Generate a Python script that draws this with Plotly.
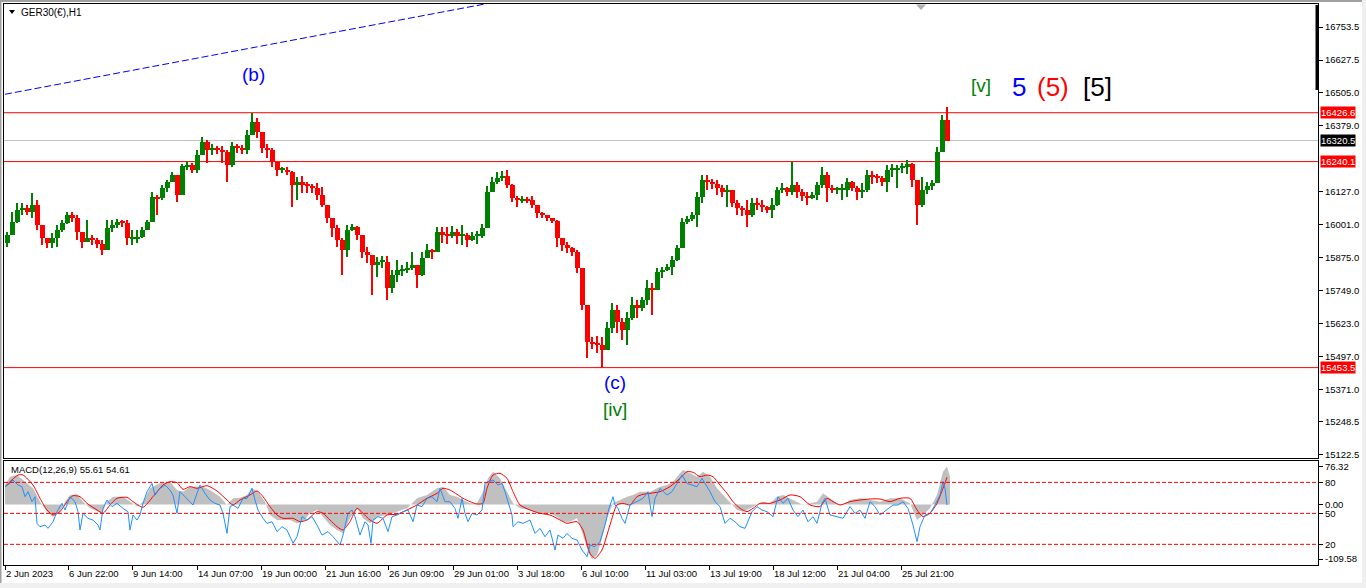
import plotly.graph_objects as go

# ---------------- price data (each candle = 5 hourly bars) ----------------
BIN_HOURS = 5
first_open = 15929
highs = [15971,16048,16082,16082,16074,16120,16093,15998,15948,15967,
         15998,16017,16048,16048,16036,15971,16017,15960,15948,15941,
         16017,16017,16021,16017,16017,15979,15979,15990,16017,16124,
         16113,16151,16170,16200,16189,16231,16242,16235,16284,16334,
         16322,16307,16300,16300,16284,16315,16307,16303,16361,16427,
         16406,16353,16307,16292,16239,16219,16219,16204,16181,16185,
         16162,16155,16158,16143,16074,16025,15998,15948,15998,16002,
         15994,15960,15914,15883,15876,15880,15880,15826,15864,15845,
         15857,15895,15845,15895,15925,15906,15990,15990,15990,15994,
         15983,15998,15967,15971,15975,16002,16147,16181,16200,16204,
         16208,16155,16109,16109,16105,16109,16074,16048,16036,16025,
         16017,15948,15933,15914,15902,15834,15693,15570,15574,15570,
         15628,15700,15693,15643,15666,15723,15712,15723,15788,15777,
         15834,15838,15849,15880,15922,16025,16032,16048,16124,16189,
         16189,16174,16170,16151,16151,16132,16093,16070,16093,16101,
         16101,16093,16070,16101,16143,16158,16143,16239,16162,16135,
         16124,16124,16162,16219,16200,16151,16143,16155,16177,16166,
         16147,16158,16208,16204,16193,16185,16227,16231,16227,16235,
         16246,16235,16170,16181,16162,16170,16296,16418,16448]
lows = [15914,15958,16005,16036,16036,16025,15979,15922,15910,15910,
        15914,15971,16002,16009,15941,15910,15933,15922,15910,15883,
        15902,15971,15986,15990,15922,15922,15929,15948,15979,16009,
        16036,16093,16124,16162,16086,16113,16208,16197,16197,16265,
        16235,16265,16269,16235,16162,16219,16273,16269,16269,16341,
        16330,16273,16254,16219,16185,16197,16189,16067,16093,16120,
        16120,16120,16093,16067,16006,15952,15914,15807,15876,15975,
        15941,15872,15853,15731,15800,15834,15712,15738,15780,15803,
        15815,15826,15758,15803,15872,15868,15895,15929,15925,15948,
        15925,15922,15914,15937,15925,15948,15986,16124,16155,16166,
        16139,16086,16067,16082,16082,16063,16025,16025,16013,16006,
        15914,15899,15891,15880,15815,15673,15490,15524,15509,15453.5,
        15521,15586,15586,15559,15540,15635,15643,15670,15693,15654,
        15750,15796,15822,15807,15860,15910,16002,16013,15990,16082,
        16132,16135,16113,16105,16067,16067,16036,16032,15990,16029,
        16055,16048,16044,16025,16070,16120,16109,16113,16101,16090,
        16074,16097,16093,16139,16086,16120,16116,16093,16105,16128,
        16093,16101,16124,16155,16158,16147,16124,16181,16139,16197,
        16193,16143,15998,16067,16116,16132,16158,16277,16319]
closes = [15960,16009,16055,16063,16048,16074,15998,15948,15929,15948,
          15979,16006,16036,16025,15971,15933,15948,15941,15925,15902,
          15986,15998,16009,16006,15948,15948,15952,15979,16009,16105,
          16101,16139,16162,16189,16113,16223,16227,16208,16265,16315,
          16284,16292,16284,16277,16227,16300,16292,16284,16341,16391,
          16353,16292,16284,16239,16208,16208,16200,16151,16162,16151,
          16147,16139,16113,16074,16025,15986,15941,15902,15979,15990,
          15960,15895,15883,15845,15857,15857,15758,15807,15826,15826,
          15834,15845,15807,15872,15902,15895,15971,15960,15956,15971,
          15956,15960,15941,15956,15956,15986,16124,16162,16177,16185,
          16151,16101,16093,16097,16093,16074,16044,16036,16025,16013,
          15948,15922,15910,15895,15834,15693,15551,15547,15540,15521,
          15605,15673,15628,15597,15643,15693,15681,15712,15758,15750,
          15819,15826,15838,15864,15910,16009,16021,16036,16105,16170,
          16162,16155,16139,16124,16132,16082,16063,16055,16036,16082,
          16074,16067,16055,16074,16132,16139,16124,16151,16124,16109,
          16101,16113,16151,16189,16139,16132,16132,16132,16162,16139,
          16124,16132,16189,16185,16177,16162,16208,16208,16216,16219,
          16231,16170,16074,16132,16147,16158,16277,16399,16320.5]

levels_red = [16426.6, 16240.1, 15453.5]
bid_price = 16320.5
trend_x = [0, 600]
trend_y = [16497, 16928]

price_tickvals = [16753.5, 16627.5, 16505.0, 16379.0, 16127.0, 16001.0, 15875.0,
                  15749.0, 15623.0, 15497.0, 15371.0, 15248.5, 15122.5]
time_tickvals = [0, 63, 127, 192, 256, 320, 383, 448, 512, 576, 640, 704, 768, 832, 896]
time_ticktext = ["2 Jun 2023", "6 Jun 22:00", "9 Jun 14:00", "14 Jun 07:00", "19 Jun 00:00",
                 "21 Jun 16:00", "26 Jun 09:00", "29 Jun 01:00", "3 Jul 18:00", "6 Jul 10:00",
                 "11 Jul 03:00", "13 Jul 19:00", "18 Jul 12:00", "21 Jul 04:00", "25 Jul 21:00"]

# ---------------- MACD panel data ----------------
macd_x = [0,5,12,18,28,35,42,48,55,60,65,72,78,85,92,97,102,108,118,125,
          132,138,145,155,165,172,178,185,192,198,205,215,222,228,235,242,247,253,260,265,
          272,278,285,292,298,305,312,318,325,332,338,345,352,358,365,372,382,392,402,412,
          422,432,438,445,452,458,465,472,478,483,488,495,502,508,515,525,535,545,552,558,
          565,572,578,583,587,592,597,602,608,615,622,628,635,645,655,662,668,675,678,685,
          692,698,705,712,718,725,732,738,745,752,758,765,772,778,785,792,798,805,812,818,
          825,832,838,845,855,865,875,885,895,905,912,918,925,932,938,942,945]
macd_main = [39.1,55.9,59.2,49.2,32.4,5.7,-14.4,-24.4,-14.4,5.7,
             19.1,20.4,5.7,-7.7,-14.4,-17.7,5.7,15.7,15.7,5.7,
             -4.3,5.7,32.4,42.5,45.8,29.1,25.8,35.8,35.8,35.8,
             29.1,15.7,-1.0,12.4,13.7,19.1,32.4,25.8,5.7,-21.1,
             -31.1,-31.1,-31.1,-37.8,-34.5,-17.7,-11.0,-24.4,-41.1,-51.2,
             -57.9,-27.8,-7.7,-27.8,-37.8,-24.4,-21.1,-14.4,-7.7,12.4,
             19.1,32.4,35.8,19.1,15.7,9.0,2.3,2.3,25.8,52.5,
             65.9,52.5,25.8,2.3,-7.7,-11.0,-17.7,-17.7,-24.4,-34.5,
             -34.5,-27.8,-61.2,-94.7,-109.6,-101.4,-68.2,-27.8,2.3,9.0,
             15.7,19.1,25.8,25.8,35.8,39.1,45.8,62.5,69.2,62.5,
             55.9,65.9,55.9,32.4,19.1,2.3,-11.0,-14.4,-7.7,-1.0,
             5.7,2.3,15.7,19.1,12.4,5.7,-1.0,2.3,5.7,22.4,
             12.4,2.3,-1.0,9.0,12.4,9.0,5.7,12.4,12.4,2.3,
             -31.1,-21.1,-7.7,19.1,65.9,76.3,55.6]
sig_x = [0,13,18,28,35,42,48,55,62,68,75,82,92,98,105,112,122,128,138,148,
         158,165,172,178,185,192,202,212,222,228,235,245,252,258,265,272,278,288,295,302,
         312,318,325,332,338,345,352,358,365,372,382,392,402,412,422,432,438,445,452,458,
         465,472,478,482,488,495,502,508,515,525,535,545,555,562,572,578,585,590,597,605,
         612,618,625,632,638,645,655,665,675,682,688,695,702,708,715,722,728,735,742,748,
         755,765,775,785,795,805,815,822,828,835,845,855,865,875,885,895,905,912,918,925,
         932,938,942]
sig_vals = [35.8,59.2,59.2,39.1,12.4,-11.0,-21.1,-14.4,5.7,17.7,
            15.7,2.3,-11.0,-17.7,-1.0,12.4,14.4,5.7,-5.7,15.7,
            39.1,45.8,43.8,30.4,35.8,32.4,37.8,27.1,9.0,-1.0,
            9.0,19.1,27.1,15.7,-4.3,-21.1,-27.8,-27.8,-34.5,-31.1,
            -14.4,-17.7,-31.1,-44.5,-51.2,-34.5,-7.7,-17.7,-31.1,-37.8,
            -21.1,-19.7,-11.0,-1.0,12.4,22.4,32.4,29.1,20.4,12.4,
            5.7,1.0,2.3,32.4,59.2,62.5,52.5,25.8,-1.0,-11.0,
            -17.7,-21.1,-31.1,-37.8,-34.5,-51.2,-98.0,-108.1,-91.3,-41.1,
            -1.0,2.3,-1.0,15.7,20.4,22.4,25.8,35.8,52.5,65.9,
            64.6,55.9,59.2,55.9,39.1,22.4,5.7,-7.7,-14.4,-7.7,
            2.3,2.3,9.0,19.1,15.7,-1.0,-4.3,12.4,5.7,-1.0,
            5.7,9.0,11.0,11.0,5.7,12.4,12.4,-11.0,-24.4,-17.7,
            2.3,32.4,54.6]
osc_x = [0,5,8,13,17,20,23,27,30,32,35,40,43,48,52,57,60,65,70,73,
         75,78,83,88,93,95,98,102,107,112,118,123,125,128,132,135,138,142,147,150,
         155,160,165,168,172,175,180,185,188,192,195,200,205,210,215,218,222,225,228,233,
         238,242,247,250,253,258,262,267,272,277,282,288,292,297,302,307,312,317,323,328,
         335,338,343,347,350,355,360,363,366,368,373,378,383,387,392,398,403,408,412,417,
         422,427,432,435,440,445,450,453,457,460,463,467,472,477,480,
         483,488,493,497,500,503,507,508,513,518,525,530,535,540,545,550,553,558,562,567,
         572,577,582,585,590,595,600,604,608,610,613,617,620,625,632,638,643,647,650,655,
         662,667,672,677,682,687,692,697,700,705,710,715,720,725,730,735,740,743,747,752,
         757,762,768,773,778,783,788,793,798,803,808,812,817,820,825,832,838,845,850,855,
         860,865,870,875,882,888,893,898,903,908,912,915,920,925,930,935,938,940,942]
osc_vals = [75.8,79.0,82.3,77.4,75.8,66.1,71.0,61.3,66.1,40.3,
            37.1,38.7,35.5,41.9,51.6,59.7,53.2,66.1,61.3,51.6,
            33.9,50.0,45.2,43.5,38.7,33.9,54.8,62.9,56.5,59.7,
            54.8,51.6,33.9,48.4,43.5,48.4,59.7,71.0,79.0,67.7,
            74.2,77.4,72.6,67.7,50.0,71.0,66.1,61.3,58.1,69.4,
            77.4,69.4,62.9,59.7,58.1,50.0,30.6,56.5,58.1,54.8,
            64.5,64.5,74.2,62.9,53.2,45.2,40.3,41.9,32.3,37.1,
            33.9,21.0,27.4,46.8,43.5,46.8,38.7,29.0,32.3,27.4,
            19.4,29.0,50.0,53.2,46.8,29.0,41.9,38.7,21.0,43.5,
            46.8,45.2,32.3,46.8,48.4,51.6,53.2,41.9,58.1,56.5,
            64.5,66.1,61.3,74.2,61.3,
            61.3,54.8,45.2,64.5,50.0,41.9,50.0,48.4,53.2,79.0,
            80.6,82.3,77.4,79.0,71.0,61.3,48.4,37.1,41.9,40.3,
            43.5,30.6,35.5,27.4,33.9,14.5,29.0,25.8,30.6,25.8,
            24.2,14.5,8.1,19.4,17.7,22.6,38.7,54.8,66.1,58.1,
            54.8,45.2,40.3,58.1,61.3,64.5,71.0,46.8,64.5,74.2,
            67.7,71.0,79.0,87.1,79.0,77.4,75.8,83.9,79.0,71.0,
            61.3,56.5,40.3,45.2,41.9,37.1,35.5,41.9,51.6,56.5,
            53.2,51.6,46.8,66.1,59.7,64.5,53.2,46.8,53.2,41.9,
            46.8,40.3,59.7,64.5,48.4,46.8,45.2,56.5,50.0,53.2,
            45.2,61.3,56.5,48.4,53.2,58.1,58.1,61.3,54.8,38.7,
            22.6,37.1,48.4,50.0,58.1,67.7,80.6,74.2,58.1]
osc_levels = [80, 50, 20]
macd_label_vals = [76.32, 0.0, -109.58]
macd_title = "MACD(12,26,9) 55.61 54.61"

wave_labels = [
    ("(b)", 248, 16574, "#0000FF", 19),
    ("(c)", 610, 15395, "#0000FF", 19),
    ("[iv]", 610, 15292, "#008000", 19),
    ("[v]", 976, 16529, "#008000", 19),
    ("5", 1014, 16525, "#0000FF", 26),
    ("(5)", 1048, 16525, "#FF0000", 26),
    ("[5]", 1092, 16525, "#000000", 26),
]

# ---------------- build ----------------
FONT = "Liberation Sans"
UP, DOWN = "#008000", "#FF0000"
opens = [first_open] + closes[:-1]
n = len(closes)
xs = [BIN_HOURS * i + 2 for i in range(n)]
cols = [UP if c >= o else DOWN for o, c in zip(opens, closes)]

def px_x(p):
    return (p - 4) / 1314.0

def px_y(p):
    return (565 - p) / 561.0

fig = go.Figure()
fig.add_trace(go.Bar(x=xs, y=[h - l for h, l in zip(highs, lows)], base=lows, width=2.6,
                     marker=dict(color=cols, line=dict(width=0)), xaxis="x", yaxis="y"))
fig.add_trace(go.Bar(x=xs, y=[max(abs(c - o), 5) for o, c in zip(opens, closes)],
                     base=[min(o, c) for o, c in zip(opens, closes)], width=5.0,
                     marker=dict(color=cols, line=dict(width=0)), xaxis="x", yaxis="y"))
fig.add_trace(go.Scatter(x=trend_x, y=trend_y, mode="lines",
                         line=dict(color="#0000FF", width=1, dash="7px,3px"), xaxis="x", yaxis="y"))

fig.add_trace(go.Scatter(x=macd_x, y=macd_main, mode="lines", line=dict(width=0, color="#C0C0C0"),
                         fill="tozeroy", fillcolor="#C0C0C0", xaxis="x2", yaxis="y2"))
fig.add_trace(go.Scatter(x=sig_x, y=sig_vals, mode="lines", line=dict(width=1, color="#FF0000", shape="spline", smoothing=0.6),
                         xaxis="x2", yaxis="y2"))
fig.add_trace(go.Scatter(x=osc_x, y=osc_vals, mode="lines", line=dict(width=1, color="#1E90FF"),
                         xaxis="x2", yaxis="y3"))

shapes = []
for lv in levels_red:
    shapes.append(dict(type="line", xref="paper", x0=0, x1=1, yref="y", y0=lv, y1=lv,
                       line=dict(color="#FF0000", width=1), layer="below"))
shapes.append(dict(type="line", xref="paper", x0=0, x1=1, yref="y", y0=bid_price, y1=bid_price,
                   line=dict(color="#C0C0C0", width=1), layer="below"))
for lv in osc_levels:
    shapes.append(dict(type="line", xref="paper", x0=0, x1=1, yref="y3", y0=lv, y1=lv,
                       line=dict(color="#FF0000", width=1, dash="4px,2px")))
# window chrome
shapes.append(dict(type="rect", xref="paper", yref="paper", x0=px_x(0), x1=px_x(1366), y0=px_y(2), y1=px_y(0),
                   fillcolor="#A0A0A0", line=dict(width=0)))
shapes.append(dict(type="rect", xref="paper", yref="paper", x0=px_x(0), x1=px_x(1366), y0=px_y(588), y1=px_y(583),
                   fillcolor="#F0F0F0", line=dict(width=0)))
shapes.append(dict(type="rect", xref="paper", yref="paper", x0=px_x(1362), x1=px_x(1366), y0=px_y(588), y1=px_y(0),
                   fillcolor="#F0F0F0", line=dict(width=0)))
shapes.append(dict(type="rect", xref="paper", yref="paper", x0=px_x(0), x1=px_x(1.5), y0=px_y(583), y1=px_y(0),
                   fillcolor="#A0A0A0", line=dict(width=0)))
shapes.append(dict(type="line", xref="paper", yref="paper", x0=px_x(1317), x1=px_x(1317), y0=px_y(5), y1=px_y(90),
                   line=dict(color="#000000", width=3)))
shapes.append(dict(type="path", xref="paper", yref="paper",
                   path="M %f,%f L %f,%f L %f,%f Z" % (px_x(916), px_y(4.5), px_x(926), px_y(4.5), px_x(921), px_y(10)),
                   fillcolor="#B0B0B0", line=dict(width=0)))
shapes.append(dict(type="path", xref="paper", yref="paper",
                   path="M %f,%f L %f,%f L %f,%f Z" % (px_x(9), px_y(10), px_x(15), px_y(10), px_x(12), px_y(14)),
                   fillcolor="#000000", line=dict(width=0)))

ann = []
ann.append(dict(text="GER30(€),H1", xref="paper", yref="paper", x=px_x(19), y=px_y(12.5), xanchor="left",
                yanchor="middle", showarrow=False, font=dict(family=FONT, size=10, color="black")))
ann.append(dict(text=macd_title, xref="paper", yref="paper", x=px_x(9), y=px_y(469.5), xanchor="left",
                yanchor="middle", showarrow=False, font=dict(family=FONT, size=9.5, color="black")))
for t, x, y, c, s in wave_labels:
    ann.append(dict(text=t, x=x, y=y, xref="x", yref="y", showarrow=False, xanchor="center", yanchor="middle",
                    font=dict(family=FONT, size=s, color=c)))
for lv in levels_red:
    ann.append(dict(text="%.1f" % lv, xref="paper", x=1, xshift=2, xanchor="left", yref="y", y=lv, yanchor="middle",
                    showarrow=False, bgcolor="#FF0000", borderpad=0, font=dict(family=FONT, size=9.5, color="white")))
ann.append(dict(text="%.1f" % bid_price, xref="paper", x=1, xshift=2, xanchor="left", yref="y", y=bid_price,
                yanchor="middle", showarrow=False, bgcolor="#000000", borderpad=0,
                font=dict(family=FONT, size=9.5, color="white")))

TF = dict(family=FONT, size=9.5, color="black")
axis_common = dict(showgrid=False, zeroline=False, showline=True, mirror=True, linecolor="black", linewidth=1,
                   tickcolor="black", ticklen=4, tickfont=TF, fixedrange=True, automargin=False, tickangle=0)

fig.update_layout(
    width=1366, height=588, margin=dict(l=4, r=48, t=4, b=23, autoexpand=False),
    paper_bgcolor="white", plot_bgcolor="white", showlegend=False,
    barmode="overlay", bargap=0, hovermode=False,
    font=dict(family=FONT, size=9.5, color="black"),
    xaxis=dict(domain=[0, 1], range=[-1, 1313], anchor="y", showticklabels=False, ticks="", **axis_common),
    yaxis=dict(domain=[px_y(458), 1], range=[15108.4, 16841.7], side="right", anchor="x",
               tickvals=price_tickvals, ticktext=["%.1f" % v for v in price_tickvals], ticks="outside", **axis_common),
    xaxis2=dict(domain=[0, 1], range=[-1, 1313], anchor="y2", tickvals=time_tickvals, ticktext=time_ticktext,
                ticks="outside", ticklabelposition="outside right", **axis_common),
    yaxis2=dict(domain=[0, px_y(461)], range=[-121.5, 87.3], side="right", anchor="x2",
                tickvals=macd_label_vals, ticktext=["%.2f" % v for v in macd_label_vals], ticks="outside",
                **axis_common),
    yaxis3=dict(overlaying="y2", side="right", anchor="x2", range=[0, 100.7], tickvals=osc_levels,
                ticktext=[str(v) for v in osc_levels], ticks="outside", showgrid=False, zeroline=False,
                showline=False, tickcolor="black", ticklen=4, tickfont=TF, fixedrange=True, automargin=False),
    shapes=shapes, annotations=ann,
)

fig.write_html("out.html", config={"displayModeBar": False},
               post_script="document.body.style.margin='0px';document.body.style.overflow='hidden';")
